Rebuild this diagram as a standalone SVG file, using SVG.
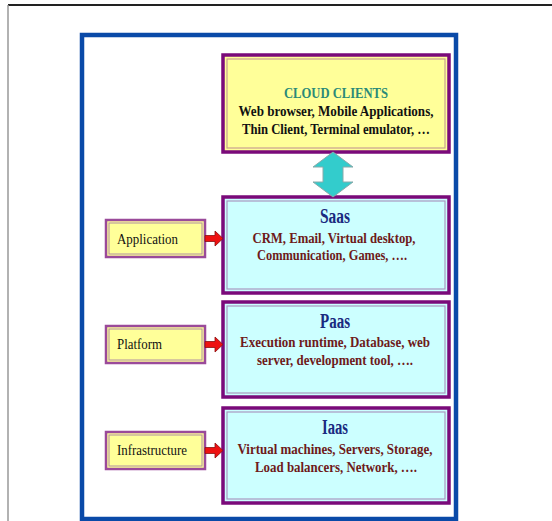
<svg xmlns="http://www.w3.org/2000/svg" width="552" height="521" viewBox="0 0 552 521">
<defs>
<style>
.big{stroke:#7a0a7a;stroke-width:3.5}
.inY{fill:none;stroke:#c8a090;stroke-width:1.2}
.inC{fill:none;stroke:#a898c0;stroke-width:1.2}
.small{fill:#ffff99;stroke:#9a4a9a;stroke-width:2.5}
.t{font-family:"Liberation Serif","Times New Roman",serif;font-weight:bold;text-anchor:middle}
.body{font-size:15.5px;fill:#6e1a1a}
.head{font-size:20px;fill:#1a2a80}
.lab{font-family:"Liberation Serif","Times New Roman",serif;font-size:15.5px;fill:#111}
.red{fill:#ee1111;stroke:#8a1010;stroke-width:0.8}
</style>
</defs>
<rect width="552" height="521" fill="#ffffff"/>
<g id="frame">
<line x1="8" y1="5" x2="552" y2="5" stroke="#222" stroke-width="2"/>
<line x1="8" y1="5" x2="8" y2="521" stroke="#999" stroke-width="1.5"/>
<rect x="82" y="35" width="374" height="484" fill="none" stroke="#0a4aa8" stroke-width="4.5"/>
</g>
<g id="cloud-clients">
<rect class="big" x="223" y="55" width="226" height="97" fill="#ffff99"/>
<rect class="inY" x="227" y="59" width="218" height="89"/>
<text class="t" x="336" y="98" font-size="15.5" fill="#2a8a78" textLength="104" lengthAdjust="spacingAndGlyphs">CLOUD CLIENTS</text>
<text class="t" x="336" y="116" font-size="15.5" fill="#111" textLength="195" lengthAdjust="spacingAndGlyphs">Web browser, Mobile Applications,</text>
<text class="t" x="336" y="134" font-size="15.5" fill="#111" textLength="188" lengthAdjust="spacingAndGlyphs">Thin Client, Terminal emulator, …</text>
</g>
<g id="saas">
<rect class="big" x="223" y="197" width="226" height="96" fill="#ccffff"/>
<rect class="inC" x="227" y="201" width="218" height="88"/>
<text class="t head" x="335" y="223" textLength="30" lengthAdjust="spacingAndGlyphs">Saas</text>
<text class="t body" x="334" y="243" textLength="163" lengthAdjust="spacingAndGlyphs">CRM, Email, Virtual desktop,</text>
<text class="t body" x="332" y="260" textLength="150" lengthAdjust="spacingAndGlyphs">Communication, Games, ….</text>
</g>
<g id="paas">
<rect class="big" x="223" y="302" width="226" height="95" fill="#ccffff"/>
<rect class="inC" x="227" y="306" width="218" height="87"/>
<text class="t head" x="335" y="328" textLength="30" lengthAdjust="spacingAndGlyphs">Paas</text>
<text class="t body" x="335" y="347" textLength="190" lengthAdjust="spacingAndGlyphs">Execution runtime, Database, web</text>
<text class="t body" x="335" y="365" textLength="156" lengthAdjust="spacingAndGlyphs">server, development tool, ….</text>
</g>
<g id="iaas">
<rect class="big" x="223" y="408" width="226" height="95" fill="#ccffff"/>
<rect class="inC" x="227" y="412" width="218" height="87"/>
<text class="t head" x="335" y="434" textLength="26" lengthAdjust="spacingAndGlyphs">Iaas</text>
<text class="t body" x="335" y="454" textLength="195" lengthAdjust="spacingAndGlyphs">Virtual machines, Servers, Storage,</text>
<text class="t body" x="336" y="472" textLength="162" lengthAdjust="spacingAndGlyphs">Load balancers, Network, ….</text>
</g>
<g id="application">
<rect class="small" x="106" y="220" width="99" height="37"/>
<rect x="109" y="223" width="93" height="31" fill="none" stroke="#b090a0" stroke-width="1"/>
<text class="lab" x="117" y="244" textLength="61" lengthAdjust="spacingAndGlyphs">Application</text>
</g>
<g id="platform">
<rect class="small" x="106" y="326" width="99" height="37"/>
<rect x="109" y="329" width="93" height="31" fill="none" stroke="#b090a0" stroke-width="1"/>
<text class="lab" x="117" y="349" textLength="45" lengthAdjust="spacingAndGlyphs">Platform</text>
</g>
<g id="infrastructure">
<rect class="small" x="106" y="432" width="99" height="37"/>
<rect x="109" y="435" width="93" height="31" fill="none" stroke="#b090a0" stroke-width="1"/>
<text class="lab" x="117" y="455" textLength="70" lengthAdjust="spacingAndGlyphs">Infrastructure</text>
</g>
<g id="connectors">
<path d="M333,152 L353,167 L343,167 L343,182 L353,182 L333,197 L313,182 L323,182 L323,167 L313,167 Z" fill="#33cccc" stroke="#8aa" stroke-width="1"/>
<path class="red" d="M205,235.5 L215,235.5 L215,231 L223,238.5 L215,246 L215,241.5 L205,241.5 Z"/>
<path class="red" d="M205,341.5 L215,341.5 L215,337 L223,344.5 L215,352 L215,347.5 L205,347.5 Z"/>
<path class="red" d="M205,447.5 L215,447.5 L215,443 L223,450.5 L215,458 L215,453.5 L205,453.5 Z"/>
</g>
</svg>
